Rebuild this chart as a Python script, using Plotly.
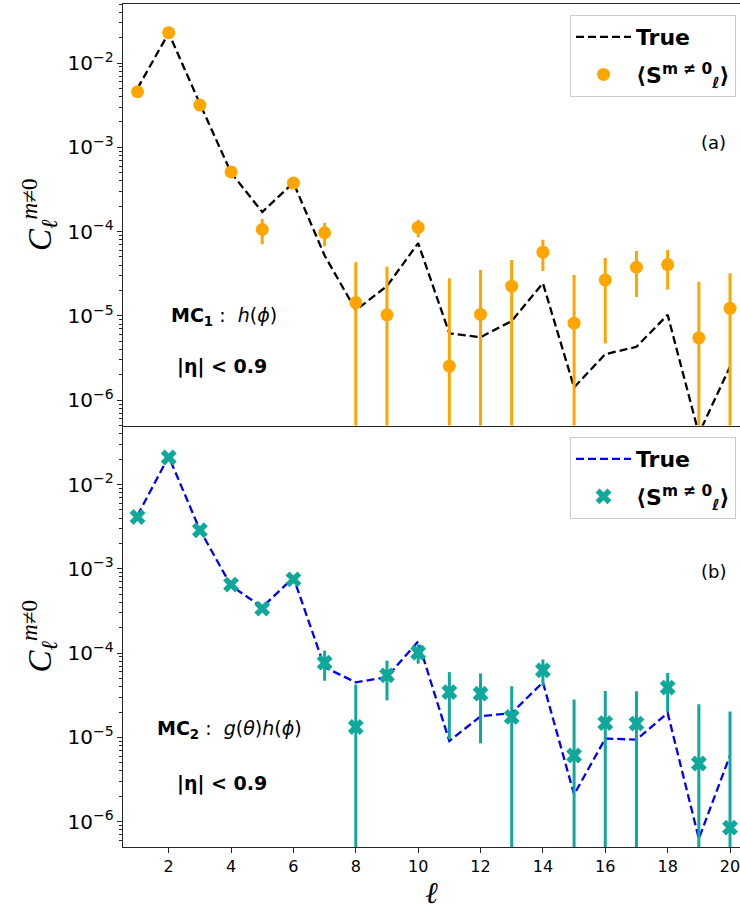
import plotly.graph_objects as go
from plotly.subplots import make_subplots

# ---------------- data ----------------
ell = list(range(1, 21))

# Panel (a): MC1
true_a = [5.0e-3, 2.27e-2, 3.3e-3, 5.0e-4, 1.71e-4, 3.8e-4, 5.2e-5, 1.17e-5, 2.26e-5, 7.3e-5,
          6.2e-6, 5.6e-6, 8.7e-6, 2.44e-5, 1.42e-6, 3.52e-6, 4.3e-6, 1.03e-5, 4.0e-7, 2.5e-6]
est_a = [4.56e-3, 2.29e-2, 3.17e-3, 5.1e-4, 1.06e-4, 3.76e-4, 9.7e-5, 1.44e-5, 1.03e-5, 1.12e-4,
         2.54e-6, 1.04e-5, 2.25e-5, 5.7e-5, 8.2e-6, 2.67e-5, 3.78e-5, 4.06e-5, 5.5e-6, 1.23e-5]
err_a = [2e-5, 2e-5, 2e-5, 2e-5, 3.5e-5, 2e-5, 3.0e-5, 2.9e-5, 2.8e-5, 2.6e-5,
         2.55e-5, 2.46e-5, 2.35e-5, 2.3e-5, 2.24e-5, 2.2e-5, 2.1e-5, 2.0e-5, 2.0e-5, 1.97e-5]

# Panel (b): MC2
true_b = [4.3e-3, 2.15e-2, 2.9e-3, 6.3e-4, 3.5e-4, 7.9e-4, 6.8e-5, 4.5e-5, 5.2e-5, 1.38e-4,
          9.06e-6, 1.78e-5, 1.95e-5, 4.5e-5, 2.1e-6, 9.7e-6, 9.4e-6, 1.95e-5, 6.3e-7, 6.1e-6]
est_b = [4.12e-3, 2.09e-2, 2.87e-3, 6.5e-4, 3.37e-4, 7.5e-4, 7.7e-5, 1.33e-5, 5.45e-5, 1.01e-4,
         3.45e-5, 3.3e-5, 1.75e-5, 6.25e-5, 6.1e-6, 1.48e-5, 1.46e-5, 3.9e-5, 4.9e-6, 8.5e-7]
err_b = [2e-5, 2e-5, 2e-5, 2e-5, 2e-5, 2e-5, 3.0e-5, 2.9e-5, 2.7e-5, 2.6e-5,
         2.5e-5, 2.45e-5, 2.3e-5, 2.15e-5, 2.2e-5, 2.07e-5, 2.06e-5, 1.9e-5, 1.98e-5, 1.95e-5]

x_ticks = [2, 4, 6, 8, 10, 12, 14, 16, 18, 20]

ORANGE = "#ffa500"
TEAL = "#10a89a"
AX = "#262626"
DASH = "8px,4px"

fig = make_subplots(rows=2, cols=1, shared_xaxes=True, vertical_spacing=0.0)

# top
fig.add_trace(go.Scatter(x=ell, y=true_a, mode="lines", name="<b>True</b>",
                         line=dict(color="black", width=2.3, dash=DASH),
                         legend="legend", legendgroup="a1"), row=1, col=1)
fig.add_trace(go.Scatter(x=ell, y=est_a, mode="markers",
                         name="<b>⟨S<sup>m ≠ 0</sup><sub>ℓ</sub>⟩</b>",
                         marker=dict(color=ORANGE, size=13, symbol="circle"),
                         error_y=dict(type="data", array=err_a, color=ORANGE, thickness=3, width=0),
                         legend="legend", legendgroup="a2"), row=1, col=1)
# bottom
fig.add_trace(go.Scatter(x=ell, y=true_b, mode="lines", name="<b>True</b>",
                         line=dict(color="#0000ff", width=2.3, dash=DASH),
                         legend="legend2", legendgroup="b1"), row=2, col=1)
fig.add_trace(go.Scatter(x=ell, y=est_b, mode="markers",
                         name="<b>⟨S<sup>m ≠ 0</sup><sub>ℓ</sub>⟩</b>",
                         marker=dict(color=TEAL, size=14, symbol="x", line=dict(width=0)),
                         error_y=dict(type="data", array=err_b, color=TEAL, thickness=3, width=0),
                         legend="legend2", legendgroup="b2"), row=2, col=1)

L, T, B = 123, 4, 68
W, H = 740, 915
ph = H - T - B


def py(p):
    return (H - B - p) / ph


def px(p):
    return (p - L) / (W - L)


yaxis_common = dict(
    type="log", range=[-6.3, -1.3], dtick=1, exponentformat="power", showexponent="all",
    showline=True, linecolor=AX, linewidth=1.2, ticks="outside", ticklen=5, tickcolor=AX,
    tickfont=dict(family="DejaVu Sans", size=16, color="black"), showgrid=False, zeroline=False,
    minor=dict(ticks="outside", ticklen=2.5, tickcolor=AX, dtick="D1", showgrid=False),
    title=dict(text="<i>C</i><sub><i>ℓ</i></sub><sup><i>m</i>≠0</sup>",
               font=dict(family="Liberation Serif", size=33, color="black"), standoff=6),
)
fig.update_yaxes(**yaxis_common, domain=[0.5, 1.0], row=1, col=1)
fig.update_yaxes(**yaxis_common, domain=[0.0, 0.5], row=2, col=1)

fig.update_xaxes(range=[0.535, 20.32], showline=True, mirror=True, linecolor=AX, linewidth=1.2,
                 showgrid=False, zeroline=False, ticks="", showticklabels=False, row=1, col=1)
fig.update_xaxes(range=[0.535, 20.32], showline=True, mirror=False, linecolor=AX, linewidth=1.2,
                 showgrid=False, zeroline=False, ticks="outside", ticklen=5, tickcolor=AX,
                 tickvals=x_ticks, showticklabels=True, ticklabeloverflow="allow",
                 tickfont=dict(family="DejaVu Sans", size=16, color="black"),
                 title=dict(text="<i>ℓ</i>", font=dict(family="Liberation Serif", size=30, color="black"),
                            standoff=4),
                 row=2, col=1)

legend_common = dict(
    bgcolor="rgba(255,255,255,0.9)", bordercolor="#cccccc", borderwidth=1,
    font=dict(family="DejaVu Sans", size=22, color="black"),
    xanchor="left", yanchor="top", itemwidth=55, traceorder="grouped", tracegroupgap=6,
)

fig.update_layout(
    width=W, height=H,
    margin=dict(l=L, r=0, t=T, b=B),
    paper_bgcolor="white", plot_bgcolor="white",
    legend=dict(**legend_common, x=px(570), y=py(15)),
    legend2=dict(**legend_common, x=px(570), y=py(437)),
    showlegend=True,
)

ann_font = dict(family="DejaVu Sans", size=19, color="black")
annotations = [
    dict(text="(a)", x=px(713), y=py(142), font=dict(family="DejaVu Sans", size=18, color="black")),
    dict(text="(b)", x=px(713), y=py(571), font=dict(family="DejaVu Sans", size=18, color="black")),
    dict(text="<b>MC<sub>1</sub></b> :  <i>h</i>(<i>ϕ</i>)", x=px(224), y=py(316), font=ann_font),
    dict(text="<b>|η| < 0.9</b>", x=px(222), y=py(367), font=ann_font),
    dict(text="<b>MC<sub>2</sub></b> :  <i>g</i>(<i>θ</i>)<i>h</i>(<i>ϕ</i>)", x=px(229), y=py(729), font=ann_font),
    dict(text="<b>|η| < 0.9</b>", x=px(222), y=py(783), font=ann_font),
]
for a in annotations:
    fig.add_annotation(xref="paper", yref="paper", showarrow=False, xanchor="center", yanchor="middle", **a)

fig.write_html("out.html")
